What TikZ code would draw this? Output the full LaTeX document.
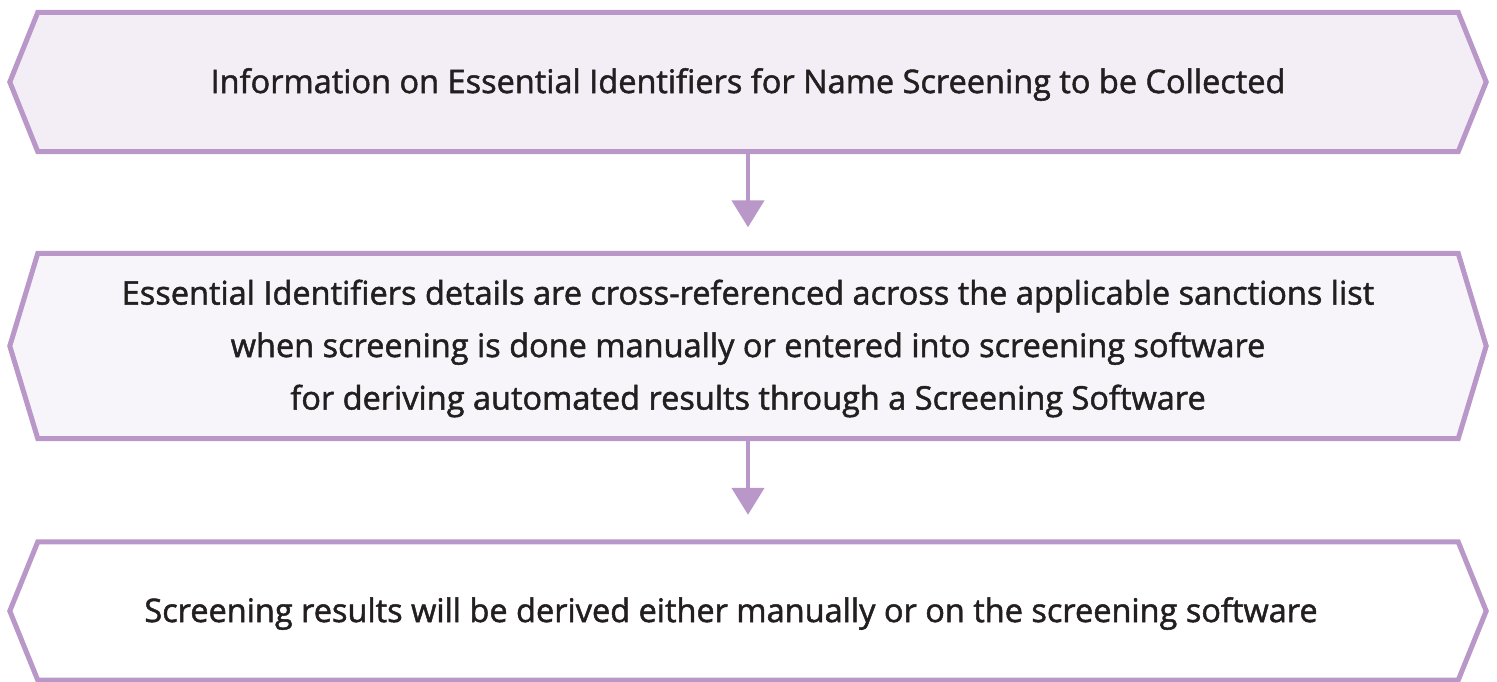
\documentclass[tikz,border=0pt]{standalone}
\usepackage{fontspec}
\newfontfamily\stepfont{Open Sans}[Ligatures=NoCommon, FakeBold=1.5]
\usetikzlibrary{calc,arrows.meta}
\definecolor{edgepurple}{HTML}{B998C9}
\definecolor{fillA}{HTML}{F3EEF6}
\definecolor{fillB}{HTML}{F7F5FA}
\definecolor{inktext}{HTML}{231F20}
\tikzset{
  stepbox/.style={minimum height=#1, minimum width=1420pt, inner sep=0pt},
  steptext/.style={text=inktext, align=center, yshift=-2.5pt,
    font=\stepfont\fontsize{32.5}{52.5}\selectfont},
  hexline/.style={draw=edgepurple, line width=5pt, line join=miter},
  flowarrow/.style={draw=edgepurple, line width=4.5pt,
    -{Triangle[width=32pt,length=27pt]}},
}
% outline of a box with pointed left and right ends
\newcommand{\hexpath}[2]{%
  \path[hexline,#2] (#1.north west) -- (#1.north east) -- ($(#1.east)+(28,0)$)
    -- (#1.south east) -- (#1.south west) -- ($(#1.west)+(-28,0)$) -- cycle;}
\begin{document}
\begin{tikzpicture}[x=1pt,y=-1pt]
\useasboundingbox (0,0) rectangle (1497,681);
\fill[white] (0,0) rectangle (1497,681);

\node[stepbox=139pt] (b1) at (748,82) {};
\node[stepbox=185pt] (b2) at (748,346) {};
\node[stepbox=138pt] (b3) at (748,611) {};

\hexpath{b1}{fill=fillA}
\hexpath{b2}{fill=fillB}
\hexpath{b3}{fill=white}

\node[steptext] (l1) at (b1)
  {Information on Essential Identifiers for Name Screening to be Collected};
\node[steptext] (l2) at (b2)
  {Essential Identifiers details are cross-referenced across the applicable sanctions list\\
   when screening is done manually or entered into screening software\\
   for deriving automated results through a Screening Software};
\node[steptext, xshift=-17pt] (l3) at (b3)
  {Screening results will be derived either manually or on the screening software};

\coordinate (t1) at ($(b2.north)+(0,-26)$);
\coordinate (t2) at ($(b3.north)+(0,-27)$);
\draw[flowarrow] (b1.south) -- (t1);
\draw[flowarrow] (b2.south) -- (t2);
\end{tikzpicture}
\end{document}
